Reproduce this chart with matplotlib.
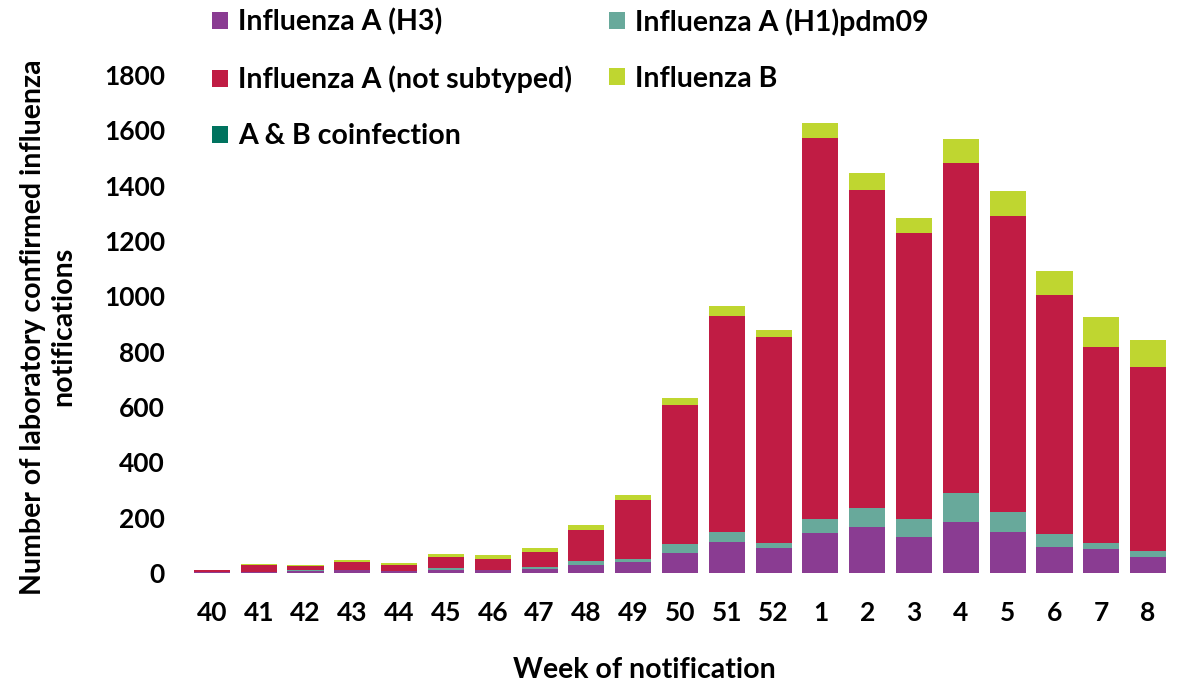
import numpy as np
import matplotlib.pyplot as plt

plt.rcParams['font.family'] = ['Lato', 'DejaVu Sans']
plt.rcParams['font.weight'] = 'bold'

weeks = ['40', '41', '42', '43', '44', '45', '46', '47', '48', '49', '50', '51', '52',
         '1', '2', '3', '4', '5', '6', '7', '8']

# counts per week
h3 = [3, 4, 6, 10, 6, 12, 10, 15, 29, 41, 73, 113, 89, 146, 167, 131, 185, 147, 95, 87, 59]
h1pdm09 = [1, 1, 4, 3, 2, 6, 3, 8, 14, 10, 32, 36, 18, 49, 67, 64, 103, 75, 46, 20, 21]
not_subtyped = [9, 24, 16, 26, 20, 41, 39, 54, 112, 213, 502, 781, 746, 1376, 1150, 1033, 1193, 1068, 864, 711, 665]
flu_b = [0, 3, 2, 10, 7, 10, 12, 14, 18, 18, 24, 35, 25, 54, 63, 57, 86, 91, 88, 106, 97]
coinfection = [0, 0, 0, 0, 0, 0, 0, 0, 0, 0, 0, 0, 0, 0, 0, 0, 0, 0, 0, 0, 0]

series = [
    ('Influenza A (H3)', h3, '#8a3c92'),
    ('Influenza A (H1)pdm09', h1pdm09, '#68a99b'),
    ('Influenza A (not subtyped)', not_subtyped, '#c01c44'),
    ('Influenza B', flu_b, '#bfd630'),
    ('A & B coinfection', coinfection, '#00735f'),
]

fig = plt.figure(figsize=(11.93, 6.88), dpi=100)
ax = fig.add_axes([0.158, 0.167, 0.824, 0.724])

x = np.arange(len(weeks))
bottom = np.zeros(len(weeks))
bars = {}
for name, vals, col in series:
    vals = np.array(vals, dtype=float)
    bars[name] = ax.bar(x, vals, 0.77, bottom=bottom, color=col, label=name)
    bottom += vals

ax.set_xlim(-0.5, len(weeks) - 0.5)
ax.set_ylim(0, 1800)
ax.set_yticks(np.arange(0, 1801, 200))
ax.set_xticks(x)
ax.set_xticklabels(weeks)
for s in ax.spines.values():
    s.set_visible(False)
ax.tick_params(axis='both', length=0, labelsize=19)
ax.tick_params(axis='y', pad=17)
ax.tick_params(axis='x', pad=20)

fig.text(0.040, 0.525, 'Number of laboratory confirmed influenza\nnotifications',
         rotation=90, ha='center', va='center', fontsize=20.5, fontweight='bold',
         multialignment='center')
fig.text(0.54, 0.026, 'Week of notification', ha='center', va='center',
         fontsize=20.5, fontweight='bold')

order = ['Influenza A (H3)', 'Influenza A (not subtyped)', 'A & B coinfection',
         'Influenza A (H1)pdm09', 'Influenza B']
fig.legend([bars[n] for n in order], order, ncol=2, loc='upper left',
           bbox_to_anchor=(0.178, 0.988), frameon=False, fontsize=20.5,
           handlelength=0.55, handleheight=0.55, handletextpad=0.35,
           labelspacing=1.05, columnspacing=1.3, borderpad=0, borderaxespad=0)

fig.savefig('out.png', dpi=100)
